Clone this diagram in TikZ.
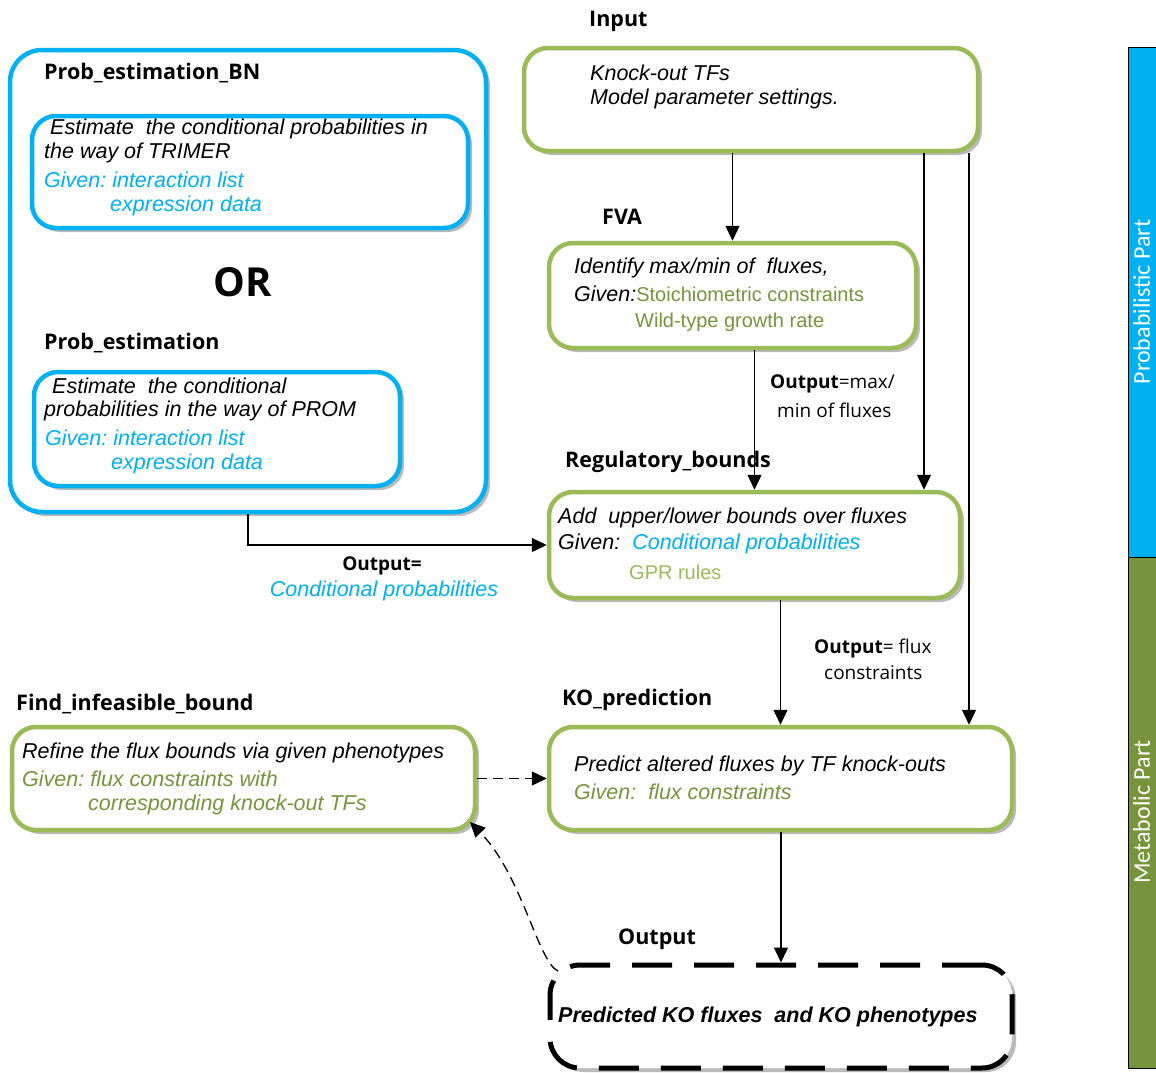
\documentclass[tikz,border=0pt]{standalone}
\usepackage{fontspec}
\setmainfont{Liberation Sans}
\newfontfamily\tfont{Open Sans}
\newfontfamily\barfont{Carlito}
\usetikzlibrary{arrows.meta,shadows,calc}
\definecolor{cyanb}{RGB}{0,176,240}
\definecolor{gbord}{RGB}{155,187,89}
\definecolor{olivetxt}{RGB}{119,147,60}
\begin{document}
\frenchspacing
\begin{tikzpicture}[x=1pt,y=-1pt,
 boxshadow/.style={drop shadow={shadow xshift=4pt,shadow yshift=-4pt,opacity=0.45,fill=black!60}},
 gbox/.style={draw=gbord,line width=4.5pt,rounded corners=24pt,fill=white,boxshadow,inner sep=0},
 bbox/.style={draw=cyanb,line width=4.5pt,rounded corners=24pt,fill=white,boxshadow,inner sep=0},
 body/.style={font=\fontsize{21.5}{26}\selectfont\itshape,inner sep=0,anchor=west},
 up/.style={font=\fontsize{20}{24}\selectfont,inner sep=0,anchor=west},
 ttl/.style={font=\tfont\fontsize{21.5}{26}\selectfont\bfseries,inner sep=0,anchor=west},
 lbl/.style={font=\tfont\fontsize{19}{24}\selectfont,inner sep=0,anchor=west},
 arr/.style={line width=1.4pt,-{Triangle[length=15pt,width=14pt]}},
 darr/.style={line width=1.3pt,dash pattern=on 10pt off 6pt,-{Triangle[length=15pt,width=14pt]}},
]
\useasboundingbox[fill=white] (0,0) rectangle (1156,1072);

% boxes
\node[bbox,minimum width=476pt,minimum height=462pt,rounded corners=32pt] (bn) at (248,281) {};
\node[bbox,minimum width=436pt,minimum height=112pt] (bn1) at (250,172) {};
\node[bbox,minimum width=366pt,minimum height=114pt] (bn2) at (217,429) {};
\node[gbox,minimum width=454pt,minimum height=103pt] (input) at (751,99.5) {};
\node[gbox,minimum width=367pt,minimum height=105pt] (fva) at (732.5,295.5) {};
\node[gbox,minimum width=411pt,minimum height=106pt] (reg) at (754.5,545) {};
\node[gbox,minimum width=463pt,minimum height=103pt] (ko) at (780.5,778.5) {};
\node[gbox,minimum width=463pt,minimum height=103pt] (find) at (243.5,778.5) {};
\node[draw=black,line width=5pt,dash pattern=on 40pt off 22pt,rounded corners=30pt,fill=white,boxshadow,inner sep=0,minimum width=462pt,minimum height=103pt] (out) at (781,1016.5) {};

% side bar
\node[draw=black,line width=0.8pt,fill=cyanb,minimum width=32pt,minimum height=510pt,inner sep=0] (pb) at (1144,302) {};
\node[draw=black,line width=0.8pt,fill=olivetxt,minimum width=32pt,minimum height=511pt,inner sep=0] (mb) at (1144,812.5) {};
\node[rotate=90,font=\barfont\fontsize{24}{28}\selectfont,text=white,inner sep=0] (ptxt) at (1141.5,302) {Probabilistic Part};
\node[rotate=90,font=\barfont\fontsize{24}{28}\selectfont,text=white,inner sep=0] (mtxt) at (1141.5,812) {Metabolic Part};

% titles
\node[ttl] (tbn) at (44,73) {Prob\_estimation\_BN};
\node[ttl,font=\tfont\fontsize{40}{44}\selectfont\bfseries,anchor=center] (or) at (243,282) {OR};
\node[ttl] (tpe) at (44,343) {Prob\_estimation};
\node[ttl] (tin) at (589,21) {Input};
\node[ttl] (tfva) at (602,217) {FVA};
\node[ttl] (treg) at (565,462) {Regulatory\_bounds};
\node[ttl] (tko) at (562,700) {KO\_prediction};
\node[ttl] (tfind) at (16,704) {Find\_infeasible\_bound};
\node[ttl] (tout) at (618,939) {Output};

% box texts
\node[body] (a1) at (50,129) {Estimate\ \ the conditional probabilities in};
\node[body] (a2) at (44,153) {the way of TRIMER};
\node[body,text=cyanb] (a3) at (44,180) {Given: interaction list};
\node[body,text=cyanb] (a4) at (110,206) {expression data};

\node[body] (b1) at (52,386) {Estimate\ \ the conditional};
\node[body] (b2) at (44,411) {probabilities in the way of PROM};
\node[body,text=cyanb] (b3) at (45,438) {Given: interaction list};
\node[body,text=cyanb] (b4) at (111,464) {expression data};

\node[body] (c1) at (590,73) {Knock-out TFs};
\node[body] (c2) at (590,99) {Model parameter settings.};

\node[body] (d1) at (574,268) {Identify max/min of\ \ fluxes,};
\node[body] (d2) at (574,294) {Given:\textcolor{olivetxt}{\upshape\fontsize{20}{24}\selectfont Stoichiometric constraints}};
\node[up,text=olivetxt] (d3) at (635,322) {Wild-type growth rate};

\node[body] (e1) at (558,518) {Add\ \ upper/lower bounds over fluxes};
\node[body] (e2) at (558,544) {Given:\ \ \textcolor{cyanb}{Conditional probabilities}};
\node[up,text=gbord] (e3) at (629,572) {GPR rules};

\node[body] (f1) at (574,766) {Predict altered fluxes by TF knock-outs};
\node[body,text=olivetxt] (f2) at (574,792) {Given:\ \ flux constraints};

\node[body] (g1) at (22,753) {Refine the flux bounds via given phenotypes};
\node[body,text=olivetxt] (g2) at (22,779) {Given: flux constraints with};
\node[body,text=olivetxt] (g3) at (88,805) {corresponding knock-out TFs};

\node[body,font=\fontsize{21.5}{26}\selectfont\bfseries\itshape] (o1) at (558,1017) {Predicted KO fluxes\ \ and KO phenotypes};

% connector labels
\node[lbl,anchor=center] (l1) at (382,566) {\bfseries Output=};
\node[body,anchor=center,text=cyanb] (l2) at (384,591) {Conditional probabilities};
\node[lbl] (l3) at (770,384) {\bfseries Output\mdseries=max/};
\node[lbl] (l4) at (777,410) {min of fluxes};
\node[lbl] (l5) at (814,648) {\bfseries Output\mdseries= flux};
\node[lbl] (l6) at (824,673) {constraints};

% connectors
\coordinate (xa) at (924,0);
\coordinate (xb) at (969,0);
\coordinate (xc) at (248,0);
\coordinate (cs) at (558,971);
\coordinate (ce) at (470,822);
\draw[arr] (input.south -| fva.north) -- (fva.north);
\draw[arr] (fva.south -| reg.north) -- (reg.north);
\draw[arr] (input.south -| xa) -- (reg.north -| xa);
\draw[arr] (input.south -| xb) -- (ko.north -| xb);
\draw[arr] (reg.south -| ko.north) -- (ko.north);
\draw[arr] (ko.south -| out.north) -- (out.north);
\draw[arr] (bn.south -| xc) |- (reg.west);
\draw[darr] (find.east) -- (ko.west);
\draw[darr] (cs) .. controls (538,962) and (522,875) .. (ce);
\end{tikzpicture}
\end{document}
